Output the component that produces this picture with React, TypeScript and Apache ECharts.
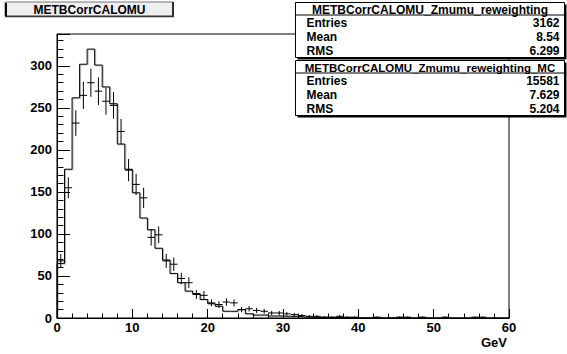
import React, { useEffect, useRef } from "react";
import * as echarts from "echarts";

// Histogram binning: 60 bins of 1 GeV from 0 to 60
const xMin = 0;
const xMax = 60;
const binWidth = 1;
const yMax = 338;

// Lower edge of each bin (GeV)
const binLowEdges = [
  0, 1, 2, 3, 4, 5, 6, 7, 8, 9, 10, 11, 12, 13, 14, 15, 16, 17, 18, 19,
  20, 21, 22, 23, 24, 25, 26, 27, 28, 29, 30, 31, 32, 33, 34, 35, 36, 37, 38, 39,
  40, 41, 42, 43, 44, 45, 46, 47, 48, 49, 50, 51, 52, 53, 54, 55, 56, 57, 58, 59,
];

// Data: METBCorrCALOMU_Zmumu_reweighting (entries per bin, drawn with error crosses)
const dataCounts = [
  68, 155, 232, 265, 280, 270, 258, 253, 222, 176,
  159, 143, 96, 99, 68, 64, 47, 42, 28, 27,
  18, 16, 19, 18, 10, 11, 9, 8, 6, 6,
  5, 4, 3, 2, 2, 1, 1, 2, 1, 1,
  0, 0, 1, 0, 0, 1, 1, 0, 1, 0,
  0, 1, 0, 0, 0, 1, 1, 0, 0, 0,
];

// MC: METBCorrCALOMU_Zmumu_reweighting_MC (normalised, drawn as step histogram)
const mcValues = [
  65, 177, 262, 302, 320, 301, 275, 255, 207, 177,
  149, 119, 105, 83, 69, 53, 42, 32, 29, 22,
  17, 14, 8, 8, 10, 5, 3.5, 3.5, 2.4, 2.4,
  2, 2, 1.2, 1, 0.8, 0.8, 0.6, 0.5, 0.5, 0.4,
  0.3, 0.3, 0.2, 0.2, 0.2, 0.1, 0.1, 0.1, 0.1, 0.1,
  0.1, 0.05, 0.05, 0.05, 0.05, 0.05, 0.05, 0.05, 0.05, 0.05,
];

const titleText = "METBCorrCALOMU";
const statsTitles = ["METBCorrCALOMU_Zmumu_reweighting", "METBCorrCALOMU_Zmumu_reweighting_MC"];
const statsLabels = ["Entries", "Mean", "RMS"];
const statsValues1 = ["3162", "8.54", "6.299"];
const statsValues2 = ["15581", "7.629", "5.204"];
const xAxisTitle = "GeV";

const FONT = "'Liberation Sans', Arial, Helvetica, sans-serif";

function statsBox(top: number, title: string, values: string[], titleSize: number) {
  const left = 295.5;
  const w = 269;
  const h = 55;
  const children: any[] = [
    { type: "rect", shape: { x: left + 2, y: top + 2, width: w, height: h }, style: { fill: "#000" } },
    { type: "rect", shape: { x: left, y: top, width: w, height: h }, style: { fill: "#fff", stroke: "#000", lineWidth: 1 } },
    { type: "line", shape: { x1: left, y1: top + 12.5, x2: left + w, y2: top + 12.5 }, style: { stroke: "#000", lineWidth: 1 } },
    {
      type: "text",
      style: { x: left + w / 2, y: top + 7, text: title, fill: "#000", font: `bold ${titleSize}px ${FONT}`, align: "center", verticalAlign: "middle" },
    },
  ];
  statsLabels.forEach((lab, k) => {
    const yy = top + 20.5 + k * 14;
    children.push({
      type: "text",
      style: { x: left + 11, y: yy, text: lab, fill: "#000", font: `bold 12px ${FONT}`, align: "left", verticalAlign: "middle" },
    });
    children.push({
      type: "text",
      style: { x: left + w - 5, y: yy, text: values[k], fill: "#000", font: `bold 12px ${FONT}`, align: "right", verticalAlign: "middle" },
    });
  });
  return { type: "group", children };
}

export default function App() {
  const ref = useRef<HTMLDivElement>(null);
  useEffect(() => {
    if (!ref.current) return;
    const chart = echarts.init(ref.current, undefined, { renderer: "svg" });

    const stepData: number[][] = [[binLowEdges[0], 0]];
    mcValues.forEach((v, i) => stepData.push([binLowEdges[i], v]));
    stepData.push([xMax, mcValues[mcValues.length - 1]]);
    stepData.push([xMax, 0]);

    const crossData = dataCounts.map((c, i) => [binLowEdges[i], c, Math.sqrt(c)]);

    const labelStyle = { color: "#000", fontSize: 13, fontWeight: "bold" as const, fontFamily: FONT };

    chart.setOption({
      animation: false,
      backgroundColor: "#fff",
      grid: { left: 57, top: 34, width: 452, height: 284, show: true, borderColor: "#000", borderWidth: 1, backgroundColor: "transparent" },
      xAxis: {
        type: "value",
        min: xMin,
        max: xMax,
        interval: 10,
        axisLine: { show: true, lineStyle: { color: "#000", width: 1 } },
        axisTick: { show: true, inside: true, length: 9, lineStyle: { color: "#000" } },
        minorTick: { show: true, splitNumber: 5, length: 4.5, lineStyle: { color: "#000" } },
        axisLabel: { ...labelStyle, margin: 3 },
        splitLine: { show: false },
      },
      yAxis: [
        {
          type: "value",
          min: 0,
          max: yMax,
          interval: 50,
          position: "left",
          axisLine: { show: true, lineStyle: { color: "#000", width: 1 } },
          axisTick: { show: true, inside: true, length: 13, lineStyle: { color: "#000" } },
          axisLabel: { ...labelStyle, margin: 5, formatter: (v: number) => (v % 50 === 0 ? String(v) : "") },
          splitLine: { show: false },
        },
        {
          type: "value",
          min: 0,
          max: yMax,
          interval: 10,
          position: "left",
          axisLine: { show: false },
          axisTick: { show: true, inside: true, length: 6.5, lineStyle: { color: "#000" } },
          axisLabel: { show: false },
          splitLine: { show: false },
        },
      ],
      series: [
        {
          type: "line",
          name: "MC",
          data: stepData,
          step: "end",
          symbol: "none",
          xAxisIndex: 0,
          yAxisIndex: 0,
          lineStyle: { color: "#000", width: 1, shadowColor: "rgba(0,0,0,0.3)", shadowOffsetX: 1, shadowOffsetY: 0.5, shadowBlur: 0 },
          z: 2,
        },
        {
          type: "custom",
          name: "Data",
          data: crossData,
          xAxisIndex: 0,
          yAxisIndex: 0,
          clip: true,
          encode: { x: 0, y: 1 },
          z: 3,
          renderItem: (_params: any, api: any) => {
            const lo = api.value(0) as number;
            const v = api.value(1) as number;
            const e = api.value(2) as number;
            if (!(v > 0)) return null;
            const l = api.coord([lo, v]);
            const r = api.coord([lo + binWidth, v]);
            const t = api.coord([lo + binWidth / 2, v + e]);
            const b = api.coord([lo + binWidth / 2, Math.max(v - e, 0)]);
            return {
              type: "group",
              children: [
                { type: "line", shape: { x1: l[0], y1: l[1], x2: r[0], y2: r[1] }, style: { stroke: "#000", lineWidth: 1 } },
                { type: "line", shape: { x1: t[0], y1: t[1], x2: b[0], y2: b[1] }, style: { stroke: "#000", lineWidth: 1 } },
              ],
            };
          },
        },
      ],
      graphic: [
        {
          type: "group",
          children: [
            { type: "rect", shape: { x: 5, y: 2, width: 168, height: 14 }, style: { fill: "#efefef", stroke: "#777", lineWidth: 1 } },
            { type: "line", shape: { x1: 6, y1: 3, x2: 6, y2: 16.5 }, style: { stroke: "#000", lineWidth: 2 } },
            { type: "line", shape: { x1: 173, y1: 2, x2: 173, y2: 16.5 }, style: { stroke: "#000", lineWidth: 1.5 } },
            { type: "line", shape: { x1: 5, y1: 16.5, x2: 174, y2: 16.5 }, style: { stroke: "#333", lineWidth: 1.5 } },
            {
              type: "text",
              style: { x: 89.5, y: 9.5, text: titleText, fill: "#000", font: `bold 12px ${FONT}`, align: "center", verticalAlign: "middle" },
            },
          ],
        },
        statsBox(2.5, statsTitles[0], statsValues1, 12),
        statsBox(60.5, statsTitles[1], statsValues2, 11.5),
        {
          type: "text",
          style: { x: 507, y: 342, text: xAxisTitle, fill: "#000", font: `bold 13px ${FONT}`, align: "right", verticalAlign: "middle" },
        },
      ],
    });
    return () => chart.dispose();
  }, []);
  return <div ref={ref} style={{ position: "fixed", left: 0, top: 0, width: 567, height: 354 }} />;
}
